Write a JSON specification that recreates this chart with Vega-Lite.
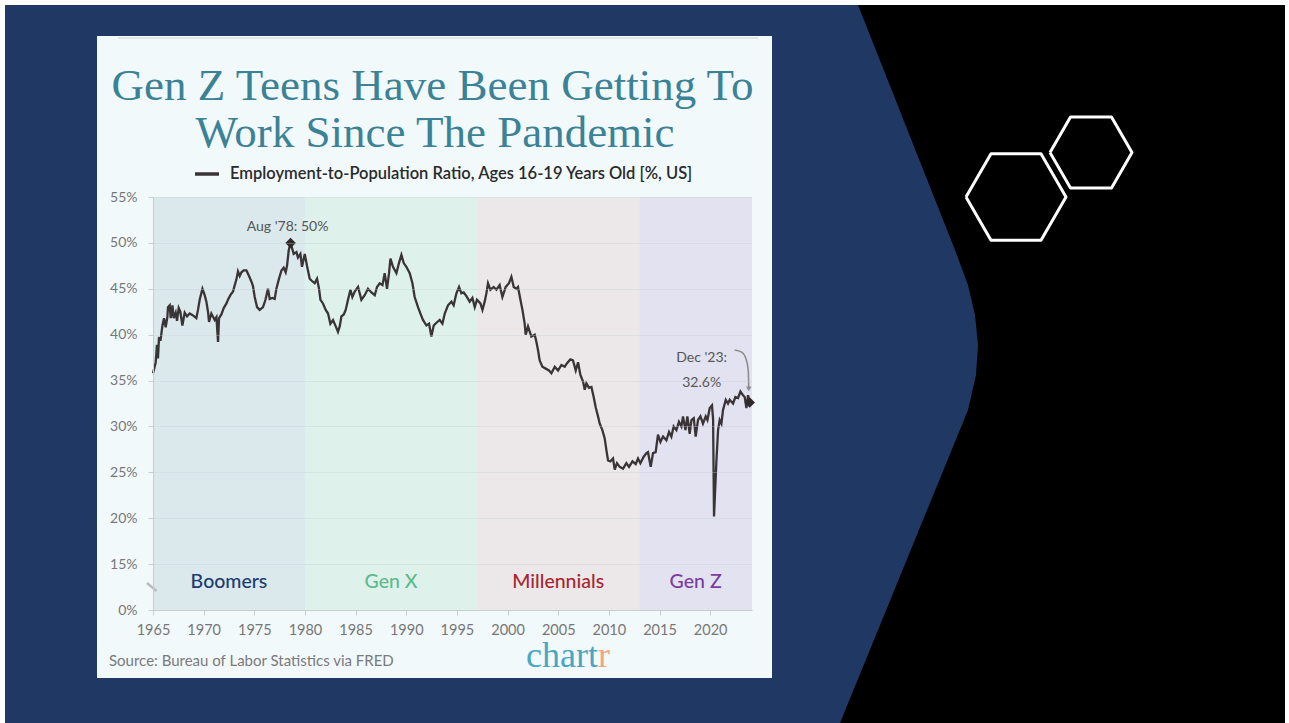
{
  "$schema": "https://vega.github.io/schema/vega-lite/v6.json",
  "width": 599,
  "height": 413,
  "autosize": {"type": "none"},
  "padding": {"left": 153, "top": 197, "right": 537, "bottom": 113},
  "background": "#ffffff",
  "config": {"view": {"stroke": null}, "font": "Lato"},
  "datasets": {
    "frame": [{"x1": 5, "x2": 1285, "y1": 5, "y2": 723}],
    "navy": [
      {"py": 5, "ex": 858, "lx": 5},
      {"py": 250, "ex": 955, "lx": 5},
      {"py": 285, "ex": 968, "lx": 5},
      {"py": 315, "ex": 975, "lx": 5},
      {"py": 345, "ex": 978, "lx": 5},
      {"py": 375, "ex": 976, "lx": 5},
      {"py": 410, "ex": 968, "lx": 5},
      {"py": 723, "ex": 840, "lx": 5}
    ],
    "hex": [
      {"h": "a", "i": 0, "px": 966, "py": 197},
      {"h": "a", "i": 1, "px": 991, "py": 153.7},
      {"h": "a", "i": 2, "px": 1041, "py": 153.7},
      {"h": "a", "i": 3, "px": 1066, "py": 197},
      {"h": "a", "i": 4, "px": 1041, "py": 240.3},
      {"h": "a", "i": 5, "px": 991, "py": 240.3},
      {"h": "a", "i": 6, "px": 966, "py": 197},
      {"h": "b", "i": 0, "px": 1050, "py": 152.5},
      {"h": "b", "i": 1, "px": 1070.5, "py": 117},
      {"h": "b", "i": 2, "px": 1111.5, "py": 117},
      {"h": "b", "i": 3, "px": 1132, "py": 152.5},
      {"h": "b", "i": 4, "px": 1111.5, "py": 188},
      {"h": "b", "i": 5, "px": 1070.5, "py": 188},
      {"h": "b", "i": 6, "px": 1050, "py": 152.5}
    ],
    "card": [{"x1": 97, "x2": 772, "y1": 36, "y2": 678}],
    "cardline": [{"x1": 118, "x2": 758, "y": 38}],
    "texts": [
      {"k": "title", "px": 432.5, "py": 100, "t": "Gen Z Teens Have Been Getting To"},
      {"k": "title", "px": 435, "py": 147, "t": "Work Since The Pandemic"},
      {"k": "source", "px": 109, "py": 661, "t": "Source: Bureau of Labor Statistics via FRED"},
      {"k": "logo", "px": 598, "py": 667, "t": "chart"},
      {"k": "logo2", "px": 598, "py": 667, "t": "r"}
    ],
    "gens": [
      {"gen": "Boomers", "start": 1965, "end": 1980},
      {"gen": "Gen X", "start": 1980, "end": 1997},
      {"gen": "Millennials", "start": 1997, "end": 2013},
      {"gen": "Gen Z", "start": 2013, "end": 2024.13}
    ],
    "brk": [{"t": 1964.4, "v": 12.94, "t2": 1965.35, "v2": 12.07}],
    "ann": [
      {"k": "aug", "t": 1978.58, "v": 50, "lab": "Aug '78: 50%"},
      {"k": "dec", "t": 2023.9, "v": 32.6, "lab": "Dec '23:\n32.6%"}
    ],
    "arrow": [
      {"i": 1, "t": 2022.42, "v": 38.32},
      {"i": 2, "t": 2023.11, "v": 38.1},
      {"i": 3, "t": 2023.51, "v": 37.45},
      {"i": 4, "t": 2023.76, "v": 36.14},
      {"i": 5, "t": 2023.81, "v": 34.1}
    ],
    "epr": [
      {"s": "EPR", "t": 1965.00, "v": 35.8}, {"s": "EPR", "t": 1965.27, "v": 37.0}, {"s": "EPR", "t": 1965.39, "v": 38.9}, {"s": "EPR", "t": 1965.49, "v": 37.4},
      {"s": "EPR", "t": 1965.59, "v": 39.6}, {"s": "EPR", "t": 1965.76, "v": 39.5}, {"s": "EPR", "t": 1965.93, "v": 41.0}, {"s": "EPR", "t": 1966.09, "v": 41.8},
      {"s": "EPR", "t": 1966.25, "v": 40.8}, {"s": "EPR", "t": 1966.42, "v": 41.9}, {"s": "EPR", "t": 1966.48, "v": 43.0}, {"s": "EPR", "t": 1966.65, "v": 43.2},
      {"s": "EPR", "t": 1966.75, "v": 41.8}, {"s": "EPR", "t": 1966.92, "v": 43.2}, {"s": "EPR", "t": 1967.04, "v": 41.8}, {"s": "EPR", "t": 1967.24, "v": 42.4},
      {"s": "EPR", "t": 1967.37, "v": 41.5}, {"s": "EPR", "t": 1967.54, "v": 42.9}, {"s": "EPR", "t": 1967.70, "v": 42.5}, {"s": "EPR", "t": 1967.90, "v": 41.0},
      {"s": "EPR", "t": 1968.13, "v": 42.4}, {"s": "EPR", "t": 1968.36, "v": 42.0}, {"s": "EPR", "t": 1968.62, "v": 42.3}, {"s": "EPR", "t": 1968.95, "v": 42.1},
      {"s": "EPR", "t": 1969.28, "v": 41.8}, {"s": "EPR", "t": 1969.44, "v": 42.7}, {"s": "EPR", "t": 1969.61, "v": 43.8}, {"s": "EPR", "t": 1969.88, "v": 45.0},
      {"s": "EPR", "t": 1970.10, "v": 44.3}, {"s": "EPR", "t": 1970.27, "v": 43.6}, {"s": "EPR", "t": 1970.43, "v": 42.5}, {"s": "EPR", "t": 1970.53, "v": 41.4},
      {"s": "EPR", "t": 1970.76, "v": 42.3}, {"s": "EPR", "t": 1971.09, "v": 41.6}, {"s": "EPR", "t": 1971.26, "v": 41.9}, {"s": "EPR", "t": 1971.42, "v": 39.2},
      {"s": "EPR", "t": 1971.52, "v": 41.8}, {"s": "EPR", "t": 1971.75, "v": 42.2}, {"s": "EPR", "t": 1971.98, "v": 42.9}, {"s": "EPR", "t": 1972.25, "v": 43.4},
      {"s": "EPR", "t": 1972.40, "v": 43.8}, {"s": "EPR", "t": 1972.64, "v": 44.3}, {"s": "EPR", "t": 1972.90, "v": 44.7}, {"s": "EPR", "t": 1973.07, "v": 45.4},
      {"s": "EPR", "t": 1973.23, "v": 46.0}, {"s": "EPR", "t": 1973.39, "v": 46.9}, {"s": "EPR", "t": 1973.56, "v": 46.4}, {"s": "EPR", "t": 1973.73, "v": 46.8},
      {"s": "EPR", "t": 1973.95, "v": 47.0}, {"s": "EPR", "t": 1974.22, "v": 47.0}, {"s": "EPR", "t": 1974.48, "v": 46.4}, {"s": "EPR", "t": 1974.71, "v": 45.8},
      {"s": "EPR", "t": 1974.87, "v": 45.3}, {"s": "EPR", "t": 1975.04, "v": 44.1}, {"s": "EPR", "t": 1975.27, "v": 43.0}, {"s": "EPR", "t": 1975.53, "v": 42.7},
      {"s": "EPR", "t": 1975.86, "v": 43.0}, {"s": "EPR", "t": 1976.10, "v": 43.8}, {"s": "EPR", "t": 1976.35, "v": 45.0}, {"s": "EPR", "t": 1976.52, "v": 43.9},
      {"s": "EPR", "t": 1976.79, "v": 44.0}, {"s": "EPR", "t": 1977.01, "v": 43.9}, {"s": "EPR", "t": 1977.18, "v": 45.0}, {"s": "EPR", "t": 1977.44, "v": 46.1},
      {"s": "EPR", "t": 1977.68, "v": 47.0}, {"s": "EPR", "t": 1977.90, "v": 47.3}, {"s": "EPR", "t": 1978.10, "v": 46.8}, {"s": "EPR", "t": 1978.23, "v": 47.5},
      {"s": "EPR", "t": 1978.40, "v": 49.2}, {"s": "EPR", "t": 1978.58, "v": 50.0}, {"s": "EPR", "t": 1978.89, "v": 48.8}, {"s": "EPR", "t": 1979.16, "v": 49.0},
      {"s": "EPR", "t": 1979.31, "v": 48.4}, {"s": "EPR", "t": 1979.55, "v": 48.8}, {"s": "EPR", "t": 1979.71, "v": 47.4}, {"s": "EPR", "t": 1979.98, "v": 48.8},
      {"s": "EPR", "t": 1980.20, "v": 47.5}, {"s": "EPR", "t": 1980.47, "v": 46.1}, {"s": "EPR", "t": 1980.64, "v": 45.9}, {"s": "EPR", "t": 1980.96, "v": 45.6},
      {"s": "EPR", "t": 1981.19, "v": 46.1}, {"s": "EPR", "t": 1981.39, "v": 45.0}, {"s": "EPR", "t": 1981.53, "v": 43.8}, {"s": "EPR", "t": 1981.78, "v": 43.4},
      {"s": "EPR", "t": 1982.05, "v": 42.7}, {"s": "EPR", "t": 1982.28, "v": 42.3}, {"s": "EPR", "t": 1982.51, "v": 41.2}, {"s": "EPR", "t": 1982.77, "v": 41.6},
      {"s": "EPR", "t": 1983.04, "v": 40.9}, {"s": "EPR", "t": 1983.26, "v": 40.3}, {"s": "EPR", "t": 1983.43, "v": 40.9}, {"s": "EPR", "t": 1983.60, "v": 42.0},
      {"s": "EPR", "t": 1983.83, "v": 42.2}, {"s": "EPR", "t": 1984.02, "v": 42.7}, {"s": "EPR", "t": 1984.25, "v": 43.8}, {"s": "EPR", "t": 1984.49, "v": 44.9},
      {"s": "EPR", "t": 1984.68, "v": 44.1}, {"s": "EPR", "t": 1984.91, "v": 44.7}, {"s": "EPR", "t": 1985.24, "v": 45.2}, {"s": "EPR", "t": 1985.57, "v": 43.8},
      {"s": "EPR", "t": 1985.90, "v": 44.3}, {"s": "EPR", "t": 1986.22, "v": 45.0}, {"s": "EPR", "t": 1986.56, "v": 44.6}, {"s": "EPR", "t": 1986.89, "v": 44.3},
      {"s": "EPR", "t": 1987.11, "v": 45.2}, {"s": "EPR", "t": 1987.38, "v": 45.6}, {"s": "EPR", "t": 1987.65, "v": 45.4}, {"s": "EPR", "t": 1987.87, "v": 46.7},
      {"s": "EPR", "t": 1988.10, "v": 45.0}, {"s": "EPR", "t": 1988.30, "v": 46.7}, {"s": "EPR", "t": 1988.44, "v": 48.3}, {"s": "EPR", "t": 1988.69, "v": 47.4},
      {"s": "EPR", "t": 1989.03, "v": 46.7}, {"s": "EPR", "t": 1989.28, "v": 47.8}, {"s": "EPR", "t": 1989.52, "v": 48.7}, {"s": "EPR", "t": 1989.75, "v": 47.8},
      {"s": "EPR", "t": 1990.01, "v": 47.4}, {"s": "EPR", "t": 1990.34, "v": 46.7}, {"s": "EPR", "t": 1990.61, "v": 45.6}, {"s": "EPR", "t": 1990.83, "v": 44.1},
      {"s": "EPR", "t": 1991.16, "v": 43.0}, {"s": "EPR", "t": 1991.40, "v": 42.3}, {"s": "EPR", "t": 1991.65, "v": 41.6}, {"s": "EPR", "t": 1991.99, "v": 41.0},
      {"s": "EPR", "t": 1992.25, "v": 41.2}, {"s": "EPR", "t": 1992.48, "v": 39.8}, {"s": "EPR", "t": 1992.71, "v": 41.0}, {"s": "EPR", "t": 1992.98, "v": 41.3},
      {"s": "EPR", "t": 1993.30, "v": 41.6}, {"s": "EPR", "t": 1993.57, "v": 41.2}, {"s": "EPR", "t": 1993.80, "v": 42.3}, {"s": "EPR", "t": 1994.12, "v": 43.2},
      {"s": "EPR", "t": 1994.46, "v": 43.6}, {"s": "EPR", "t": 1994.68, "v": 43.2}, {"s": "EPR", "t": 1994.95, "v": 44.5}, {"s": "EPR", "t": 1995.21, "v": 45.2},
      {"s": "EPR", "t": 1995.44, "v": 44.5}, {"s": "EPR", "t": 1995.67, "v": 44.6}, {"s": "EPR", "t": 1995.94, "v": 44.2}, {"s": "EPR", "t": 1996.26, "v": 43.6},
      {"s": "EPR", "t": 1996.53, "v": 44.0}, {"s": "EPR", "t": 1996.76, "v": 43.0}, {"s": "EPR", "t": 1996.98, "v": 43.8}, {"s": "EPR", "t": 1997.32, "v": 43.4},
      {"s": "EPR", "t": 1997.52, "v": 42.7}, {"s": "EPR", "t": 1997.74, "v": 43.6}, {"s": "EPR", "t": 1997.91, "v": 44.5}, {"s": "EPR", "t": 1998.07, "v": 45.6},
      {"s": "EPR", "t": 1998.31, "v": 44.9}, {"s": "EPR", "t": 1998.63, "v": 45.2}, {"s": "EPR", "t": 1998.90, "v": 44.9}, {"s": "EPR", "t": 1999.22, "v": 45.4},
      {"s": "EPR", "t": 1999.49, "v": 44.1}, {"s": "EPR", "t": 1999.82, "v": 45.2}, {"s": "EPR", "t": 2000.14, "v": 45.6}, {"s": "EPR", "t": 2000.38, "v": 46.3},
      {"s": "EPR", "t": 2000.61, "v": 45.2}, {"s": "EPR", "t": 2000.87, "v": 45.0}, {"s": "EPR", "t": 2001.03, "v": 45.2}, {"s": "EPR", "t": 2001.27, "v": 43.8},
      {"s": "EPR", "t": 2001.47, "v": 42.7}, {"s": "EPR", "t": 2001.69, "v": 41.2}, {"s": "EPR", "t": 2001.79, "v": 40.0}, {"s": "EPR", "t": 2002.02, "v": 40.9},
      {"s": "EPR", "t": 2002.35, "v": 39.8}, {"s": "EPR", "t": 2002.68, "v": 40.0}, {"s": "EPR", "t": 2002.85, "v": 39.2}, {"s": "EPR", "t": 2003.01, "v": 38.3},
      {"s": "EPR", "t": 2003.17, "v": 37.2}, {"s": "EPR", "t": 2003.44, "v": 36.5}, {"s": "EPR", "t": 2003.77, "v": 36.3}, {"s": "EPR", "t": 2004.09, "v": 36.1},
      {"s": "EPR", "t": 2004.33, "v": 35.8}, {"s": "EPR", "t": 2004.66, "v": 36.5}, {"s": "EPR", "t": 2004.98, "v": 36.1}, {"s": "EPR", "t": 2005.32, "v": 36.7},
      {"s": "EPR", "t": 2005.64, "v": 36.5}, {"s": "EPR", "t": 2005.87, "v": 36.9}, {"s": "EPR", "t": 2006.20, "v": 37.3}, {"s": "EPR", "t": 2006.46, "v": 37.2},
      {"s": "EPR", "t": 2006.73, "v": 36.1}, {"s": "EPR", "t": 2006.96, "v": 37.0}, {"s": "EPR", "t": 2007.19, "v": 35.6}, {"s": "EPR", "t": 2007.45, "v": 34.9},
      {"s": "EPR", "t": 2007.62, "v": 34.0}, {"s": "EPR", "t": 2007.78, "v": 34.7}, {"s": "EPR", "t": 2008.04, "v": 34.2}, {"s": "EPR", "t": 2008.28, "v": 34.3},
      {"s": "EPR", "t": 2008.50, "v": 33.2}, {"s": "EPR", "t": 2008.70, "v": 32.1}, {"s": "EPR", "t": 2008.93, "v": 31.1}, {"s": "EPR", "t": 2009.10, "v": 30.3},
      {"s": "EPR", "t": 2009.36, "v": 29.6}, {"s": "EPR", "t": 2009.59, "v": 28.7}, {"s": "EPR", "t": 2009.76, "v": 27.4}, {"s": "EPR", "t": 2009.92, "v": 26.3},
      {"s": "EPR", "t": 2010.15, "v": 26.2}, {"s": "EPR", "t": 2010.41, "v": 26.5}, {"s": "EPR", "t": 2010.58, "v": 25.3}, {"s": "EPR", "t": 2010.80, "v": 26.0},
      {"s": "EPR", "t": 2011.07, "v": 25.6}, {"s": "EPR", "t": 2011.40, "v": 25.4}, {"s": "EPR", "t": 2011.73, "v": 26.0}, {"s": "EPR", "t": 2011.99, "v": 25.6},
      {"s": "EPR", "t": 2012.33, "v": 26.2}, {"s": "EPR", "t": 2012.65, "v": 25.9}, {"s": "EPR", "t": 2012.88, "v": 26.5}, {"s": "EPR", "t": 2013.11, "v": 26.0},
      {"s": "EPR", "t": 2013.44, "v": 26.7}, {"s": "EPR", "t": 2013.71, "v": 27.1}, {"s": "EPR", "t": 2013.86, "v": 27.2}, {"s": "EPR", "t": 2014.13, "v": 25.6},
      {"s": "EPR", "t": 2014.36, "v": 27.1}, {"s": "EPR", "t": 2014.62, "v": 27.2}, {"s": "EPR", "t": 2014.85, "v": 29.1}, {"s": "EPR", "t": 2015.09, "v": 28.3},
      {"s": "EPR", "t": 2015.35, "v": 28.9}, {"s": "EPR", "t": 2015.68, "v": 28.5}, {"s": "EPR", "t": 2015.94, "v": 29.4}, {"s": "EPR", "t": 2016.17, "v": 28.9},
      {"s": "EPR", "t": 2016.40, "v": 30.0}, {"s": "EPR", "t": 2016.67, "v": 29.6}, {"s": "EPR", "t": 2016.92, "v": 30.5}, {"s": "EPR", "t": 2017.16, "v": 30.0},
      {"s": "EPR", "t": 2017.32, "v": 31.1}, {"s": "EPR", "t": 2017.56, "v": 29.6}, {"s": "EPR", "t": 2017.75, "v": 31.1}, {"s": "EPR", "t": 2017.98, "v": 29.2},
      {"s": "EPR", "t": 2018.15, "v": 30.7}, {"s": "EPR", "t": 2018.38, "v": 30.9}, {"s": "EPR", "t": 2018.57, "v": 28.9}, {"s": "EPR", "t": 2018.80, "v": 30.7},
      {"s": "EPR", "t": 2019.04, "v": 31.1}, {"s": "EPR", "t": 2019.29, "v": 30.3}, {"s": "EPR", "t": 2019.56, "v": 31.1}, {"s": "EPR", "t": 2019.73, "v": 30.7},
      {"s": "EPR", "t": 2019.96, "v": 32.0}, {"s": "EPR", "t": 2020.18, "v": 32.3}, {"s": "EPR", "t": 2020.29, "v": 30.8}, {"s": "EPR", "t": 2020.38, "v": 20.2},
      {"s": "EPR", "t": 2020.62, "v": 26.3}, {"s": "EPR", "t": 2020.78, "v": 29.6}, {"s": "EPR", "t": 2020.94, "v": 30.7}, {"s": "EPR", "t": 2021.11, "v": 30.3},
      {"s": "EPR", "t": 2021.27, "v": 31.8}, {"s": "EPR", "t": 2021.54, "v": 32.9}, {"s": "EPR", "t": 2021.76, "v": 32.5}, {"s": "EPR", "t": 2021.93, "v": 32.9},
      {"s": "EPR", "t": 2022.26, "v": 32.5}, {"s": "EPR", "t": 2022.49, "v": 33.2}, {"s": "EPR", "t": 2022.75, "v": 33.1}, {"s": "EPR", "t": 2022.99, "v": 33.8},
      {"s": "EPR", "t": 2023.24, "v": 33.4}, {"s": "EPR", "t": 2023.41, "v": 33.2}, {"s": "EPR", "t": 2023.58, "v": 32.0}, {"s": "EPR", "t": 2023.74, "v": 33.4},
      {"s": "EPR", "t": 2023.90, "v": 32.6}
    ]
  },
  "layer": [
    {
      "layer": [
        {
          "data": {"name": "frame"},
          "mark": {"type": "rect", "fill": "#000000"},
          "encoding": {
            "x": {"field": "x1", "type": "quantitative", "scale": {"domain": [153, 752], "nice": false, "zero": false}, "axis": null},
            "x2": {"field": "x2"},
            "y": {"field": "y1", "type": "quantitative", "scale": {"domain": [197, 610], "nice": false, "zero": false, "reverse": true}, "axis": null},
            "y2": {"field": "y2"}
          }
        },
        {
          "data": {"name": "navy"},
          "mark": {"type": "area", "orient": "horizontal", "fill": "#1f3864", "interpolate": "linear"},
          "encoding": {
            "y": {"field": "py", "type": "quantitative", "scale": {"domain": [197, 610], "nice": false, "zero": false, "reverse": true}, "axis": null},
            "x": {"field": "ex", "type": "quantitative", "scale": {"domain": [153, 752], "nice": false, "zero": false}, "axis": null},
            "x2": {"field": "lx"}
          }
        },
        {
          "data": {"name": "hex"},
          "mark": {"type": "line", "stroke": "#ffffff", "strokeWidth": 3, "strokeJoin": "round"},
          "encoding": {
            "x": {"field": "px", "type": "quantitative", "scale": {"domain": [153, 752], "nice": false, "zero": false}, "axis": null},
            "y": {"field": "py", "type": "quantitative", "scale": {"domain": [197, 610], "nice": false, "zero": false, "reverse": true}, "axis": null},
            "detail": {"field": "h"},
            "order": {"field": "i", "type": "quantitative"}
          }
        },
        {
          "data": {"name": "card"},
          "mark": {"type": "rect", "fill": "#f2f9fb"},
          "encoding": {
            "x": {"field": "x1", "type": "quantitative", "scale": {"domain": [153, 752], "nice": false, "zero": false}, "axis": null},
            "x2": {"field": "x2"},
            "y": {"field": "y1", "type": "quantitative", "scale": {"domain": [197, 610], "nice": false, "zero": false, "reverse": true}, "axis": null},
            "y2": {"field": "y2"}
          }
        },
        {
          "data": {"name": "cardline"},
          "mark": {"type": "rule", "stroke": "#e2e6e8", "strokeWidth": 2},
          "encoding": {
            "x": {"field": "x1", "type": "quantitative", "scale": {"domain": [153, 752], "nice": false, "zero": false}, "axis": null},
            "x2": {"field": "x2"},
            "y": {"field": "y", "type": "quantitative", "scale": {"domain": [197, 610], "nice": false, "zero": false, "reverse": true}, "axis": null}
          }
        },
        {
          "data": {"name": "texts"},
          "transform": [{"filter": "datum.k == 'title'"}],
          "mark": {"type": "text", "font": "Liberation Serif", "fontSize": 45, "fill": "#3b8296", "align": "center", "baseline": "alphabetic"},
          "encoding": {
            "x": {"field": "px", "type": "quantitative", "scale": {"domain": [153, 752], "nice": false, "zero": false}, "axis": null},
            "y": {"field": "py", "type": "quantitative", "scale": {"domain": [197, 610], "nice": false, "zero": false, "reverse": true}, "axis": null},
            "text": {"field": "t"}
          }
        },
        {
          "data": {"name": "texts"},
          "transform": [{"filter": "datum.k == 'source'"}],
          "mark": {"type": "text", "font": "Lato", "fontSize": 15, "fill": "#7a7a7a", "align": "left", "baseline": "middle"},
          "encoding": {
            "x": {"field": "px", "type": "quantitative", "scale": {"domain": [153, 752], "nice": false, "zero": false}, "axis": null},
            "y": {"field": "py", "type": "quantitative", "scale": {"domain": [197, 610], "nice": false, "zero": false, "reverse": true}, "axis": null},
            "text": {"field": "t"}
          }
        },
        {
          "data": {"name": "texts"},
          "transform": [{"filter": "datum.k == 'logo'"}],
          "mark": {"type": "text", "font": "Liberation Serif", "fontSize": 36, "fill": "#4aa7c0", "align": "right", "baseline": "alphabetic"},
          "encoding": {
            "x": {"field": "px", "type": "quantitative", "scale": {"domain": [153, 752], "nice": false, "zero": false}, "axis": null},
            "y": {"field": "py", "type": "quantitative", "scale": {"domain": [197, 610], "nice": false, "zero": false, "reverse": true}, "axis": null},
            "text": {"field": "t"}
          }
        },
        {
          "data": {"name": "texts"},
          "transform": [{"filter": "datum.k == 'logo2'"}],
          "mark": {"type": "text", "font": "Liberation Serif", "fontSize": 36, "fill": "#f3a67c", "align": "left", "baseline": "alphabetic"},
          "encoding": {
            "x": {"field": "px", "type": "quantitative", "scale": {"domain": [153, 752], "nice": false, "zero": false}, "axis": null},
            "y": {"field": "py", "type": "quantitative", "scale": {"domain": [197, 610], "nice": false, "zero": false, "reverse": true}, "axis": null},
            "text": {"field": "t"}
          }
        }
      ]
    },
    {
      "layer": [
        {
          "data": {"name": "gens"},
          "mark": {"type": "rect"},
          "encoding": {
            "x": {
              "field": "start", "type": "quantitative",
              "scale": {"domain": [1965, 2024.13], "nice": false, "zero": false},
              "axis": {
                "orient": "bottom", "title": null, "values": [1965, 1970, 1975, 1980, 1985, 1990, 1995, 2000, 2005, 2010, 2015, 2020],
                "format": "d", "labelFlush": false, "labelOverlap": false, "labelFont": "Lato", "labelFontSize": 14.5, "labelColor": "#777777",
                "labelPadding": 8, "tickSize": 5, "tickColor": "#c8cdd0", "domainColor": "#c8cdd0", "grid": false, "zindex": 1
              }
            },
            "x2": {"field": "end"},
            "fill": {
              "field": "gen", "type": "nominal",
              "scale": {"domain": ["Boomers", "Gen X", "Millennials", "Gen Z"], "range": ["#dbe9ed", "#def2eb", "#ece8ea", "#e2e2f0"]},
              "legend": null
            }
          }
        },
        {
          "data": {"name": "gens"},
          "transform": [{"calculate": "(datum.start + datum.end) / 2", "as": "mid"}],
          "mark": {"type": "text", "font": "Lato", "fontSize": 19.5, "fontWeight": 500, "align": "center", "baseline": "middle"},
          "encoding": {
            "x": {"field": "mid", "type": "quantitative", "scale": {"domain": [1965, 2024.13], "nice": false, "zero": false}, "title": null},
            "y": {"datum": 13, "type": "quantitative", "scale": {"domain": [10, 55], "nice": false, "zero": false}, "title": null},
            "text": {"field": "gen"},
            "color": {
              "field": "gen", "type": "nominal",
              "scale": {"domain": ["Boomers", "Gen X", "Millennials", "Gen Z"], "range": ["#1c3b70", "#5dba8c", "#a6262f", "#7c3c9f"]},
              "legend": null
            }
          }
        },
        {
          "data": {"name": "brk"},
          "mark": {"type": "rule", "stroke": "#b8bcbe", "strokeWidth": 2.5},
          "encoding": {
            "x": {"field": "t", "type": "quantitative", "scale": {"domain": [1965, 2024.13], "nice": false, "zero": false}, "title": null},
            "x2": {"field": "t2"},
            "y": {"field": "v", "type": "quantitative", "scale": {"domain": [10, 55], "nice": false, "zero": false}, "title": null},
            "y2": {"field": "v2"}
          }
        },
        {
          "data": {"name": "epr"},
          "mark": {"type": "line", "strokeWidth": 2.3, "interpolate": "linear"},
          "encoding": {
            "x": {"field": "t", "type": "quantitative", "scale": {"domain": [1965, 2024.13], "nice": false, "zero": false}, "title": null},
            "y": {
              "field": "v", "type": "quantitative",
              "scale": {"domain": [10, 55], "nice": false, "zero": false},
              "axis": {
                "orient": "left", "title": null, "values": [10, 15, 20, 25, 30, 35, 40, 45, 50, 55],
                "labelExpr": "datum.value == 10 ? '0%' : datum.value + '%'",
                "labelFont": "Lato", "labelFontSize": 14, "labelColor": "#777777", "labelPadding": 11,
                "tickSize": 5, "tickColor": "#c8cdd0", "domainColor": "#c8cdd0",
                "grid": true, "gridColor": "#c5cfd4", "gridOpacity": 0.35, "zindex": 1
              }
            },
            "stroke": {
              "field": "s", "type": "nominal",
              "scale": {"domain": ["EPR"], "range": ["#3a3437"]},
              "legend": {
                "orient": "none", "legendX": 40, "legendY": -37, "title": null, "padding": 0,
                "symbolType": "stroke", "symbolSize": 576, "symbolStrokeWidth": 3.5,
                "labelFont": "Lato", "labelFontSize": 16.5, "labelFontWeight": 600, "labelColor": "#2a2a2a",
                "labelLimit": 800, "labelOffset": 9,
                "labelExpr": "'Employment-to-Population Ratio, Ages 16-19 Years Old [%, US]'"
              }
            }
          }
        },
        {
          "data": {"name": "ann"},
          "mark": {"type": "point", "shape": "diamond", "filled": true, "size": 110, "color": "#2f2b2d", "opacity": 1},
          "encoding": {
            "x": {"field": "t", "type": "quantitative", "scale": {"domain": [1965, 2024.13], "nice": false, "zero": false}, "title": null},
            "y": {"field": "v", "type": "quantitative", "scale": {"domain": [10, 55], "nice": false, "zero": false}, "title": null}
          }
        },
        {
          "data": {"name": "ann"},
          "transform": [{"filter": "datum.k == 'aug'"}],
          "mark": {"type": "text", "font": "Lato", "fontSize": 14, "fill": "#555555", "align": "center", "baseline": "middle", "dx": -3, "dy": -16},
          "encoding": {
            "x": {"field": "t", "type": "quantitative", "scale": {"domain": [1965, 2024.13], "nice": false, "zero": false}, "title": null},
            "y": {"field": "v", "type": "quantitative", "scale": {"domain": [10, 55], "nice": false, "zero": false}, "title": null},
            "text": {"field": "lab"}
          }
        },
        {
          "data": {"name": "ann"},
          "transform": [{"filter": "datum.k == 'dec'"}],
          "mark": {"type": "text", "font": "Lato", "fontSize": 14, "fill": "#555555", "align": "center", "baseline": "middle", "dx": -48, "dy": -45, "lineBreak": "\n", "lineHeight": 25},
          "encoding": {
            "x": {"field": "t", "type": "quantitative", "scale": {"domain": [1965, 2024.13], "nice": false, "zero": false}, "title": null},
            "y": {"field": "v", "type": "quantitative", "scale": {"domain": [10, 55], "nice": false, "zero": false}, "title": null},
            "text": {"field": "lab"}
          }
        },
        {
          "data": {"name": "arrow"},
          "mark": {"type": "line", "stroke": "#8a8a8a", "strokeWidth": 1.5, "interpolate": "monotone"},
          "encoding": {
            "x": {"field": "t", "type": "quantitative", "scale": {"domain": [1965, 2024.13], "nice": false, "zero": false}, "title": null},
            "y": {"field": "v", "type": "quantitative", "scale": {"domain": [10, 55], "nice": false, "zero": false}, "title": null},
            "order": {"field": "i", "type": "quantitative"}
          }
        },
        {
          "data": {"name": "arrow"},
          "transform": [{"filter": "datum.i == 5"}],
          "mark": {"type": "point", "shape": "triangle-down", "filled": true, "size": 30, "color": "#8a8a8a", "opacity": 1},
          "encoding": {
            "x": {"field": "t", "type": "quantitative", "scale": {"domain": [1965, 2024.13], "nice": false, "zero": false}, "title": null},
            "y": {"field": "v", "type": "quantitative", "scale": {"domain": [10, 55], "nice": false, "zero": false}, "title": null}
          }
        }
      ]
    }
  ],
  "resolve": {"scale": {"x": "independent", "y": "independent"}}
}
